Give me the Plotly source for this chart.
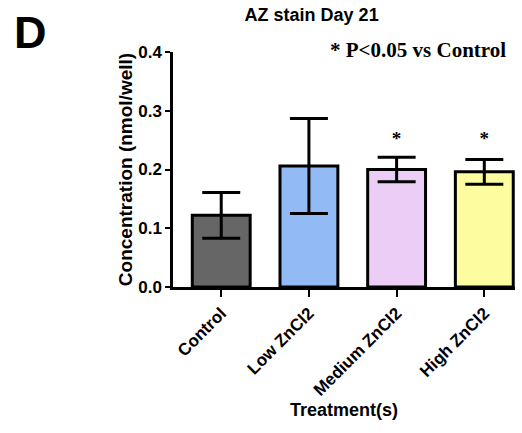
import plotly.graph_objects as go

categories = ["Control", "Low ZnCl2", "Medium ZnCl2", "High ZnCl2"]
means = [0.122, 0.206, 0.200, 0.196]
errors = [0.039, 0.081, 0.021, 0.021]
colors = ["#666666", "#92bbf5", "#eccdf5", "#fdfda0"]
sig_labels = ["", "", "*", "*"]
sig_y = [0.250, 0.250, 0.250, 0.250]
y_ticks = [0.0, 0.1, 0.2, 0.3, 0.4]

fig = go.Figure()
fig.add_trace(go.Bar(
    x=categories, y=means, width=0.66,
    marker=dict(color=colors, line=dict(color="black", width=3)),
    error_y=dict(type="data", array=errors, visible=True, color="black", thickness=3, width=19),
    showlegend=False,
))
fig.add_trace(go.Scatter(
    x=[c for c, s in zip(categories, sig_labels) if s],
    y=[y for y, s in zip(sig_y, sig_labels) if s],
    text=[f"<b>{s}</b>" for s in sig_labels if s], mode="text",
    textfont=dict(family="Liberation Serif", size=19, color="black"),
    showlegend=False, hoverinfo="skip",
))

fig.update_layout(
    width=522, height=433,
    margin=dict(l=173, r=7, t=52, b=146, autoexpand=False),
    paper_bgcolor="white", plot_bgcolor="white",
    font=dict(family="Liberation Sans", color="black"),
    title=dict(text="<b>AZ stain Day 21</b>", x=0.597, xanchor="center", y=0.965, yanchor="middle",
               font=dict(family="Liberation Sans", size=18, color="black")),
    xaxis=dict(
        range=[-0.55, 3.35], showline=True, linecolor="black", linewidth=2.5,
        ticks="outside", ticklen=7, tickwidth=2, tickcolor="black",
        tickangle=-45, tickfont=dict(family="Liberation Sans", size=17, color="black", weight="bold"),
        title=dict(text="<b>Treatment(s)</b>", font=dict(family="Liberation Sans", size=18, color="black"), standoff=2),
        showgrid=False, zeroline=False,
    ),
    yaxis=dict(
        range=[0, 0.4], tickvals=y_ticks, tickformat=".1f", showline=True, linecolor="black", linewidth=2.5,
        ticks="outside", ticklen=5, tickwidth=2, tickcolor="black",
        tickfont=dict(family="Liberation Sans", size=17, color="black", weight="bold"),
        title=dict(text="<b>Concentration (nmol/well)</b>", font=dict(family="Liberation Sans", size=19, color="black"), standoff=1),
        showgrid=False, zeroline=False,
    ),
    annotations=[
        dict(text="<b>D</b>", x=(30 - 173) / 342, y=(287 - 32) / 235, xref="paper", yref="paper",
             xanchor="center", yanchor="middle", showarrow=False,
             font=dict(family="Liberation Sans", size=45, color="black")),
        dict(text="<b>* P&lt;0.05 vs Control</b>", x=(508 - 173) / 342, y=(287 - 50) / 235, xref="paper", yref="paper",
             xanchor="right", yanchor="middle", showarrow=False,
             font=dict(family="Liberation Serif", size=21, color="black")),
    ],
)

fig.write_html("out.html", config={"displayModeBar": False},
               post_script="document.body.style.margin='0';")
